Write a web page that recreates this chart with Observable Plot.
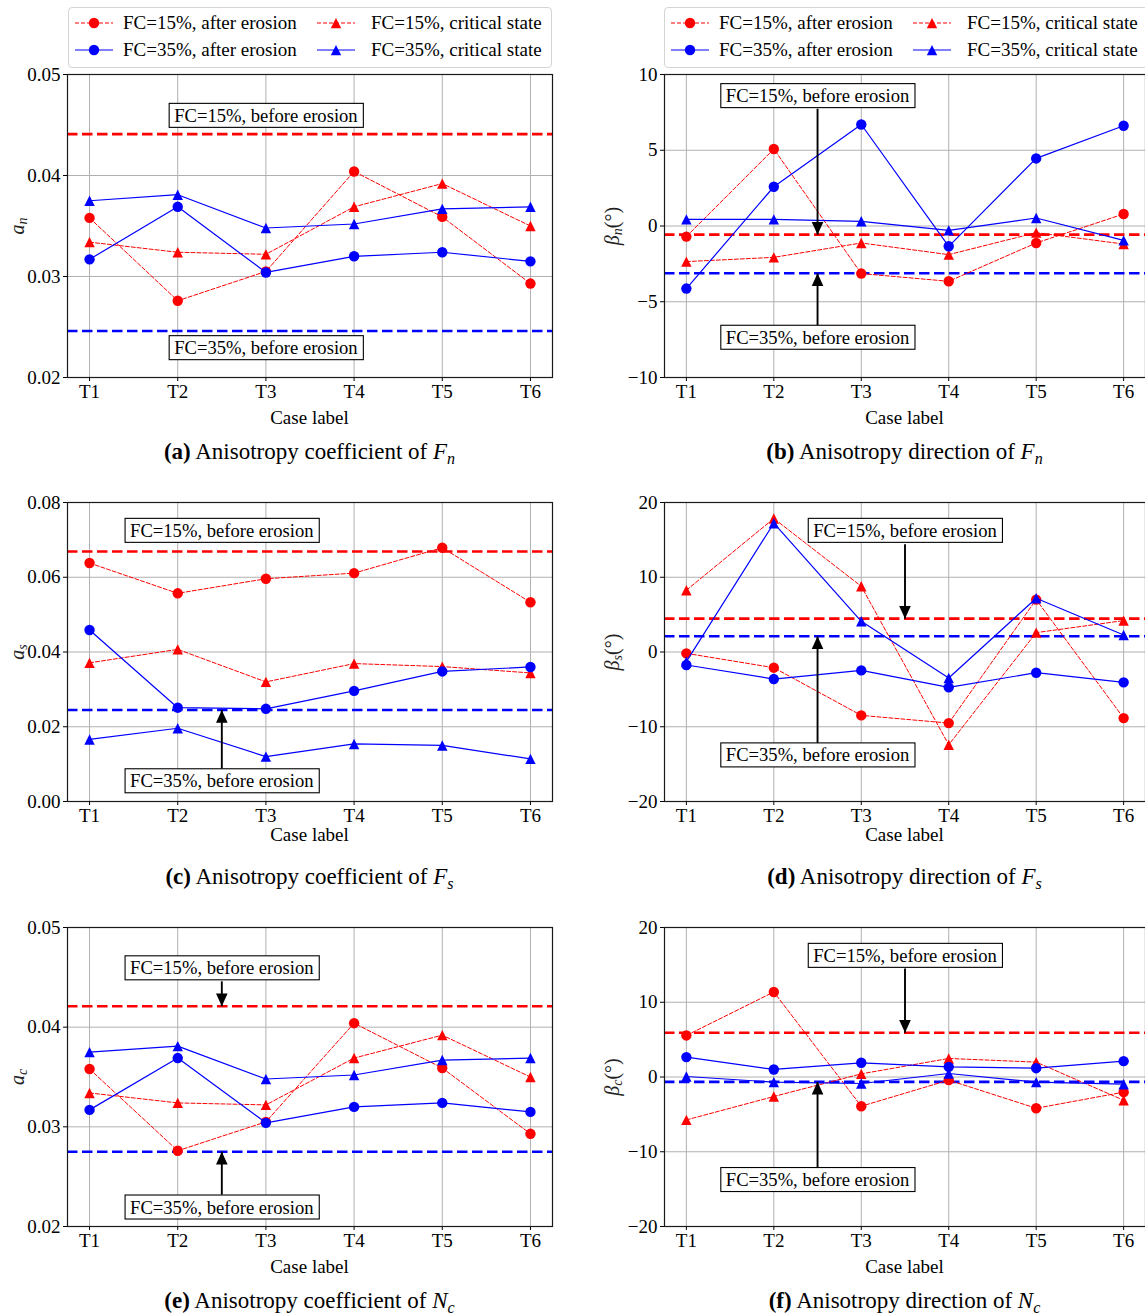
<!DOCTYPE html>
<html><head><meta charset="utf-8">
<script src="https://cdn.jsdelivr.net/npm/d3@7"></script>
<script src="https://cdn.jsdelivr.net/npm/@observablehq/plot@0.6"></script>
<style>
body{margin:0;background:#fff;}
#page{position:relative;width:1145px;height:1315px;overflow:hidden;font-family:"Liberation Serif",serif;color:#000;background:#fff;}
.legend{position:absolute;border:1px solid #d4d4d4;border-radius:4px;background:#fff;box-sizing:border-box;}
.lg-label{position:absolute;font-size:19px;line-height:22px;white-space:nowrap;}
.cap{position:absolute;transform:translate(-50%,-50%);white-space:nowrap;font-size:23px;}
.xl{position:absolute;transform:translate(-50%,-50%);white-space:nowrap;font-size:19px;}
.yl{position:absolute;transform:translate(-50%,-50%) rotate(-90deg);white-space:nowrap;font-size:20px;color:#222;}
sub{font-size:0.7em;vertical-align:-0.28em;line-height:0;}
</style></head><body><div id="page"></div>
<script>
// ---------- data ----------
const cases = ["T1", "T2", "T3", "T4", "T5", "T6"];
const seriesNames = ["FC=15%, after erosion", "FC=15%, critical state", "FC=35%, after erosion", "FC=35%, critical state"];
const beforeNames = ["FC=15%, before erosion", "FC=35%, before erosion"];

// (a) anisotropy coefficient of Fn
const an15After = [0.0358, 0.0276, 0.0305, 0.0404, 0.0359, 0.0293];
const an15Crit  = [0.0334, 0.0324, 0.0322, 0.0369, 0.0392, 0.0350];
const an35After = [0.0317, 0.0369, 0.0304, 0.0320, 0.0324, 0.0315];
const an35Crit  = [0.0375, 0.0381, 0.0348, 0.0352, 0.0367, 0.0369];
const anBefore  = [0.0441, 0.0246];

// (b) anisotropy direction of Fn
const bn15After = [-0.70, 5.08, -3.14, -3.65, -1.12, 0.79];
const bn15Crit  = [-2.35, -2.07, -1.12, -1.89, -0.44, -1.19];
const bn35After = [-4.13, 2.59, 6.70, -1.34, 4.46, 6.62];
const bn35Crit  = [0.44, 0.44, 0.31, -0.29, 0.53, -0.95];
const bnBefore  = [-0.57, -3.12];

// (c) anisotropy coefficient of Fs
const as15After = [0.0638, 0.0557, 0.0596, 0.0611, 0.0679, 0.0533];
const as15Crit  = [0.0371, 0.0407, 0.0320, 0.0369, 0.0361, 0.0344];
const as35After = [0.0459, 0.0251, 0.0248, 0.0296, 0.0348, 0.0360];
const as35Crit  = [0.0166, 0.0196, 0.0120, 0.0154, 0.0150, 0.0114];
const asBefore  = [0.0669, 0.0245];

// (d) anisotropy direction of Fs
const bs15After = [-0.18, -2.10, -8.48, -9.51, 7.01, -8.84];
const bs15Crit  = [8.26, 17.86, 8.79, -12.41, 2.59, 4.20];
const bs35After = [-1.74, -3.62, -2.46, -4.73, -2.77, -4.06];
const bs35Crit  = [-1.29, 17.23, 4.11, -3.48, 7.19, 2.28];
const bsBefore  = [4.46, 2.10];

// (e) anisotropy coefficient of Nc
const ac15After = [0.0358, 0.0276, 0.0305, 0.0404, 0.0359, 0.0293];
const ac15Crit  = [0.0334, 0.0324, 0.0322, 0.0369, 0.0392, 0.0350];
const ac35After = [0.0317, 0.0369, 0.0304, 0.0320, 0.0324, 0.0315];
const ac35Crit  = [0.0375, 0.0381, 0.0348, 0.0352, 0.0367, 0.0369];
const acBefore  = [0.0421, 0.0275];

// (f) anisotropy direction of Nc
const bc15After = [5.56, 11.37, -3.91, -0.42, -4.18, -2.03];
const bc15Crit  = [-5.74, -2.61, 0.42, 2.48, 1.99, -3.11];
const bc35After = [2.66, 1.01, 1.90, 1.36, 1.18, 2.12];
const bc35Crit  = [0.07, -0.69, -0.87, 0.47, -0.69, -0.96];
const bcBefore  = [5.92, -0.65];

// y-axis ticks
const ticksCoefN = [0.02, 0.03, 0.04, 0.05];
const ticksDirN  = [-10, -5, 0, 5, 10];
const ticksCoefS = [0.00, 0.02, 0.04, 0.06, 0.08];
const ticksDir20 = [-20, -10, 0, 10, 20];

// annotation anchors (case index, value)
const notesA = [{text: beforeNames[0], x: 2, y: 0.0459}, {text: beforeNames[1], x: 2, y: 0.0229}];
const arrowsA = [];
const notesB = [{text: beforeNames[0], x: 1.5, y: 8.57}, {text: beforeNames[1], x: 1.5, y: -7.38}];
const arrowsB = [{x: 1.5, from: 7.74, to: bnBefore[0]}, {x: 1.5, from: -6.55, to: bnBefore[1]}];
const notesC = [{text: beforeNames[0], x: 1.5, y: 0.0724}, {text: beforeNames[1], x: 1.5, y: 0.0054}];
const arrowsC = [{x: 1.5, from: 0.0088, to: asBefore[1]}];
const notesD = [{text: beforeNames[0], x: 2.5, y: 16.2}, {text: beforeNames[1], x: 1.5, y: -13.84}];
const arrowsD = [{x: 2.5, from: 14.4, to: bsBefore[0]}, {x: 1.5, from: -12.23, to: bsBefore[1]}];
const notesE = [{text: beforeNames[0], x: 1.5, y: 0.0459}, {text: beforeNames[1], x: 1.5, y: 0.0219}];
const arrowsE = [{x: 1.5, from: 0.0446, to: acBefore[0]}, {x: 1.5, from: 0.0232, to: acBefore[1]}];
const notesF = [{text: beforeNames[0], x: 2.5, y: 16.2}, {text: beforeNames[1], x: 1.5, y: -13.79}];
const arrowsF = [{x: 2.5, from: 14.5, to: bcBefore[0]}, {x: 1.5, from: -12.13, to: bcBefore[1]}];

// ---------- styles ----------
const RED = "#ff0000", BLUE = "#0000ff";
const beforeColors = [RED, BLUE];
const triUp = {draw(ctx, size) { const r = Math.sqrt(size / Math.PI); ctx.moveTo(0, -r); ctx.lineTo(r, r); ctx.lineTo(-r, r); ctx.closePath(); }};
const headDown = {draw(ctx, size) { const r = Math.sqrt(size / Math.PI); ctx.moveTo(0, 0); ctx.lineTo(-r, -2.2 * r); ctx.lineTo(r, -2.2 * r); ctx.closePath(); }};
const headUp = {draw(ctx, size) { const r = Math.sqrt(size / Math.PI); ctx.moveTo(0, 0); ctx.lineTo(-r, 2.2 * r); ctx.lineTo(r, 2.2 * r); ctx.closePath(); }};
const seriesStyle = [
  {color: RED, width: 1, dash: "4,2", symbol: "circle", leg: "circle"},
  {color: RED, width: 1, dash: "4,2", symbol: triUp, leg: "tri"},
  {color: BLUE, width: 1.2, dash: null, symbol: "circle", leg: "circle"},
  {color: BLUE, width: 1.2, dash: null, symbol: triUp, leg: "tri"}
];

const page = document.getElementById("page");
const NS = "http://www.w3.org/2000/svg";
const fmt2 = d3.format(".2f");
const fmtD = d3.format("d");

function addDiv(cls, html, x, y) {
  const d = document.createElement("div");
  d.className = cls; d.innerHTML = html;
  d.style.left = x + "px"; d.style.top = y + "px";
  page.appendChild(d);
  return d;
}

function makePanel(p) {
  const idx = d3.range(cases.length);
  const MT = 10, MB = 30;
  const marks = [
    Plot.ruleY(p.yTicks, {stroke: "#b0b0b0", strokeWidth: 1}),
    Plot.ruleX(idx, {stroke: "#b0b0b0", strokeWidth: 1})
  ];
  p.before.forEach((v, k) => marks.push(Plot.ruleY([v], {stroke: beforeColors[k], strokeWidth: 2.6, strokeDasharray: "10.5,4.5"})));
  p.series.forEach((vals, s) => {
    const st = seriesStyle[s];
    const data = vals.map((v, i) => ({i, v}));
    const lo = {x: "i", y: "v", stroke: st.color, strokeWidth: st.width};
    if (st.dash) lo.strokeDasharray = st.dash;
    marks.push(Plot.line(data, lo));
    marks.push(Plot.dot(data, {x: "i", y: "v", fill: st.color, r: 5.2, symbol: st.symbol}));
  });
  marks.push(Plot.frame({stroke: "#1a1a1a", strokeWidth: 1.2}));
  marks.push(Plot.link(p.arrows, {x1: "x", x2: "x", y1: "from", y2: "to", stroke: "black", strokeWidth: 1.9}));
  marks.push(Plot.dot(p.arrows.filter(a => a.to < a.from), {x: "x", y: "to", fill: "black", r: 5.8, symbol: headDown}));
  marks.push(Plot.dot(p.arrows.filter(a => a.to > a.from), {x: "x", y: "to", fill: "black", r: 5.8, symbol: headUp}));
  marks.push(Plot.text(p.notes, {x: "x", y: "y", text: "text", fontSize: 18.6, fill: "black"}));

  const svg = Plot.plot({
    width: p.width, height: p.frameH + MT + MB,
    marginLeft: p.ml, marginRight: p.mr, marginTop: MT, marginBottom: MB,
    x: {domain: [-0.25, cases.length - 0.75], ticks: idx, tickFormat: i => cases[i], label: null, tickSize: 4, tickPadding: 3},
    y: {domain: [p.yTicks[0], p.yTicks[p.yTicks.length - 1]], ticks: p.yTicks, tickFormat: p.fmt, label: null, tickSize: 4, tickPadding: 3},
    style: {fontFamily: '"Liberation Serif", serif', fontSize: "19px", color: "#000", background: "transparent", overflow: "visible"},
    marks
  });
  svg.style.position = "absolute";
  svg.style.left = p.left + "px";
  svg.style.top = (p.frameTop - MT) + "px";
  page.appendChild(svg);

  // boxes around annotation texts
  svg.querySelectorAll('g[aria-label="text"] text').forEach(t => {
    const b = t.getBBox();
    const r = document.createElementNS(NS, "rect");
    r.setAttribute("x", b.x - 5); r.setAttribute("y", b.y - 1.5);
    r.setAttribute("width", b.width + 10); r.setAttribute("height", b.height + 3);
    r.setAttribute("fill", "white"); r.setAttribute("stroke", "black"); r.setAttribute("stroke-width", "1.1");
    if (t.getAttribute("transform")) r.setAttribute("transform", t.getAttribute("transform"));
    t.parentNode.insertBefore(r, t);
  });

  const fl = p.left + p.ml, fr = p.left + p.width - p.mr, cx = (fl + fr) / 2;
  addDiv("xl", "Case label", cx, p.caseY);
  addDiv("cap", p.caption, cx, p.capY);
  addDiv("yl", p.ylabel, p.ylx, p.frameTop + p.frameH / 2);
}

function makeLegend(left) {
  const lg = document.createElement("div");
  lg.className = "legend";
  lg.style.left = left + "px"; lg.style.top = "7px";
  lg.style.width = "484px"; lg.style.height = "61px";
  page.appendChild(lg);
  const slots = [{s: 0, col: 0, row: 0}, {s: 2, col: 0, row: 1}, {s: 1, col: 1, row: 0}, {s: 3, col: 1, row: 1}];
  const colSample = [6, 248], colLabel = [54, 302], rowY = [15, 42];
  slots.forEach(({s, col, row}) => {
    const st = seriesStyle[s];
    const sv = document.createElementNS(NS, "svg");
    sv.setAttribute("width", 38); sv.setAttribute("height", 14);
    sv.style.position = "absolute";
    sv.style.left = colSample[col] + "px"; sv.style.top = (rowY[row] - 7) + "px";
    const ln = document.createElementNS(NS, "line");
    ln.setAttribute("x1", 0); ln.setAttribute("x2", 38); ln.setAttribute("y1", 7); ln.setAttribute("y2", 7);
    ln.setAttribute("stroke", st.color); ln.setAttribute("stroke-width", st.width);
    if (st.dash) ln.setAttribute("stroke-dasharray", st.dash);
    sv.appendChild(ln);
    if (st.leg === "circle") {
      const c = document.createElementNS(NS, "circle");
      c.setAttribute("cx", 19); c.setAttribute("cy", 7); c.setAttribute("r", 5.2); c.setAttribute("fill", st.color);
      sv.appendChild(c);
    } else {
      const pth = document.createElementNS(NS, "path");
      pth.setAttribute("d", "M19,2L24.2,12.2L13.8,12.2Z"); pth.setAttribute("fill", st.color);
      sv.appendChild(pth);
    }
    lg.appendChild(sv);
    const lab = document.createElement("div");
    lab.className = "lg-label"; lab.textContent = seriesNames[s];
    lab.style.left = colLabel[col] + "px"; lab.style.top = (rowY[row] - 11) + "px";
    lg.appendChild(lab);
  });
}

const L = {left: 0, width: 560, ml: 67, mr: 8, ylx: 17};
const R = {left: 580, width: 565, ml: 84, mr: 0, ylx: 612};

makePanel({...L, frameTop: 74, frameH: 303, caseY: 418, capY: 452,
  series: [an15After, an15Crit, an35After, an35Crit], before: anBefore, yTicks: ticksCoefN, fmt: fmt2,
  notes: notesA, arrows: arrowsA, ylabel: "<i>a</i><sub><i>n</i></sub>",
  caption: "<b>(a)</b> Anisotropy coefficient of <i>F</i><sub><i>n</i></sub>"});
makePanel({...R, frameTop: 74, frameH: 303, caseY: 418, capY: 452,
  series: [bn15After, bn15Crit, bn35After, bn35Crit], before: bnBefore, yTicks: ticksDirN, fmt: fmtD,
  notes: notesB, arrows: arrowsB, ylabel: "<i>β</i><sub><i>n</i></sub>(°)",
  caption: "<b>(b)</b> Anisotropy direction of <i>F</i><sub><i>n</i></sub>"});
makePanel({...L, frameTop: 502, frameH: 299, caseY: 835, capY: 877,
  series: [as15After, as15Crit, as35After, as35Crit], before: asBefore, yTicks: ticksCoefS, fmt: fmt2,
  notes: notesC, arrows: arrowsC, ylabel: "<i>a</i><sub><i>s</i></sub>",
  caption: "<b>(c)</b> Anisotropy coefficient of <i>F</i><sub><i>s</i></sub>"});
makePanel({...R, frameTop: 502, frameH: 299, caseY: 835, capY: 877,
  series: [bs15After, bs15Crit, bs35After, bs35Crit], before: bsBefore, yTicks: ticksDir20, fmt: fmtD,
  notes: notesD, arrows: arrowsD, ylabel: "<i>β</i><sub><i>s</i></sub>(°)",
  caption: "<b>(d)</b> Anisotropy direction of <i>F</i><sub><i>s</i></sub>"});
makePanel({...L, frameTop: 927, frameH: 299, caseY: 1267, capY: 1301,
  series: [ac15After, ac15Crit, ac35After, ac35Crit], before: acBefore, yTicks: ticksCoefN, fmt: fmt2,
  notes: notesE, arrows: arrowsE, ylabel: "<i>a</i><sub><i>c</i></sub>",
  caption: "<b>(e)</b> Anisotropy coefficient of <i>N</i><sub><i>c</i></sub>"});
makePanel({...R, frameTop: 927, frameH: 299, caseY: 1267, capY: 1301,
  series: [bc15After, bc15Crit, bc35After, bc35Crit], before: bcBefore, yTicks: ticksDir20, fmt: fmtD,
  notes: notesF, arrows: arrowsF, ylabel: "<i>β</i><sub><i>c</i></sub>(°)",
  caption: "<b>(f)</b> Anisotropy direction of <i>N</i><sub><i>c</i></sub>"});

makeLegend(68);
makeLegend(664);
</script>
</body></html>
